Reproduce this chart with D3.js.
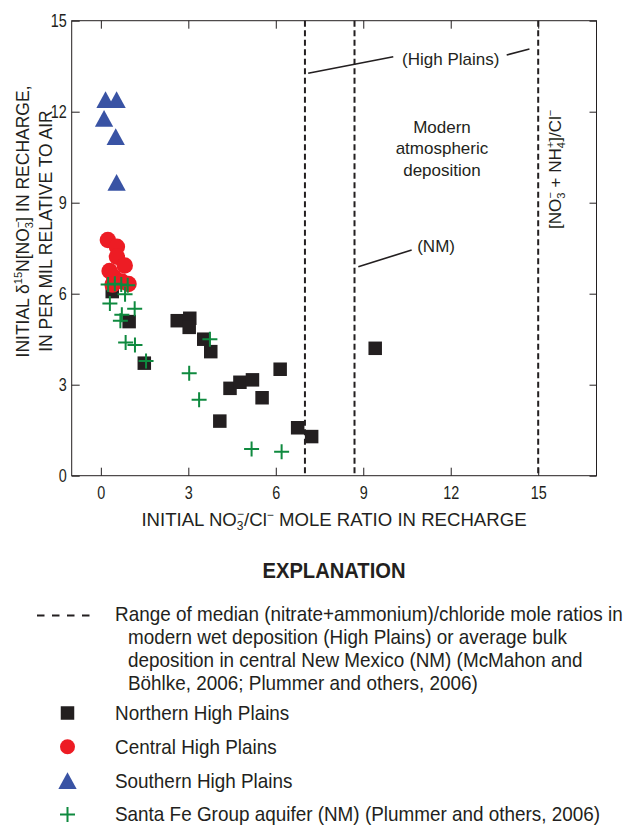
<!DOCTYPE html>
<html>
<head>
<meta charset="utf-8">
<script src="https://cdn.jsdelivr.net/npm/d3@7"></script>
<style>
  body { margin: 0; background: #fff; }
  svg { display: block; }
  .sans { font-family: "Liberation Sans", Arial, sans-serif; }
</style>
</head>
<body>
<svg id="chart" width="629" height="826"></svg>
<script>
// Initial NO3-/Cl- mole ratio (x) and initial delta15N of nitrate, per mil (y)
const northernHighPlains = [
  [0.39, 6.07], [0.97, 5.08], [1.49, 3.71], [2.62, 5.11], [3.05, 5.19],
  [3.03, 4.89], [3.53, 4.50], [3.77, 4.09], [4.08, 1.80], [4.43, 2.88],
  [4.77, 3.08], [5.20, 3.16], [5.53, 2.57], [6.15, 3.51], [6.75, 1.58],
  [7.23, 1.29], [9.41, 4.20]
];
const centralHighPlains = [
  [0.24, 7.77], [0.55, 7.55], [0.55, 7.22], [0.82, 6.93], [0.30, 6.75],
  [0.45, 6.55], [0.40, 6.30], [0.72, 6.40], [0.95, 6.32]
];
const southernHighPlains = [
  [0.16, 12.40], [0.54, 12.40], [0.11, 11.78], [0.51, 11.18], [0.54, 9.67]
];
const santaFeGroup = [
  [0.25, 6.30], [0.48, 6.33], [0.70, 6.30], [0.92, 6.28], [0.83, 5.98],
  [0.31, 5.68], [1.16, 5.50], [0.72, 5.31], [0.67, 5.11], [0.85, 4.39],
  [1.17, 4.31], [1.55, 3.78], [3.03, 3.38], [3.37, 2.50], [3.74, 4.50],
  [5.17, 0.88], [6.20, 0.79]
];

// Modern deposition ratios: High Plains wet-deposition range and NM bulk deposition
const depositionRatios = [7.0, 8.7, 15.0];

const xTicks = [0, 3, 6, 9, 12, 15];
const yTicks = [0, 3, 6, 9, 12, 15];

const legendNote = [
  "Range of median (nitrate+ammonium)/chloride mole ratios in",
  "modern wet deposition (High Plains) or average bulk",
  "deposition in central New Mexico (NM) (McMahon and",
  "Böhlke, 2006; Plummer and others, 2006)"
];
const legendSeries = [
  "Northern High Plains",
  "Central High Plains",
  "Southern High Plains",
  "Santa Fe Group aquifer (NM) (Plummer and others, 2006)"
];

const INK = "#231f20";
const COLORS = { north: "#231f20", central: "#ed1c24", south: "#3953a4", santaFe: "#0f8a3f" };
const NARROW = 0.9;   // horizontal squeeze giving a condensed face

const svg = d3.select("#chart");
const x = d3.scaleLinear().domain([-1, 17]).range([71.7, 596.5]);
const y = d3.scaleLinear().domain([0, 15]).range([475.7, 20.7]);

// condensed text: plain sans squeezed horizontally about its anchor point
function narrowText(parent, px, py, str, size, opts = {}) {
  return parent.append("text")
    .attr("class", "sans")
    .attr("transform", `translate(${px},${py}) scale(${opts.squeeze || NARROW},1)`)
    .attr("font-size", size)
    .attr("font-weight", opts.weight || null)
    .attr("text-anchor", opts.anchor || "start")
    .attr("fill", INK)
    .text(str);
}

// ---- axes (ticks point inward, labels on left and bottom only)
const axisStyle = g => {
  g.select(".domain").remove();
  g.selectAll(".tick line").attr("stroke", INK).attr("stroke-width", 1);
  g.selectAll(".tick text").attr("fill", INK).attr("class", "sans")
    .attr("font-size", 18).attr("transform", "scale(0.8,1)");
};
svg.append("g").attr("transform", `translate(0,${y(0)})`)
  .call(d3.axisBottom(x).tickValues(xTicks).tickSize(-8).tickPadding(11).tickFormat(d3.format("d")))
  .call(axisStyle);
svg.append("g").attr("transform", `translate(0,${y(15)})`)
  .call(d3.axisTop(x).tickValues(xTicks).tickSize(-8).tickFormat(""))
  .call(axisStyle);
svg.append("g").attr("transform", `translate(${x(-1)},0)`)
  .call(d3.axisLeft(y).tickValues(yTicks).tickSize(-8).tickPadding(6.2).tickFormat(d3.format("d")))
  .call(axisStyle);
svg.append("g").attr("transform", `translate(${x(17)},0)`)
  .call(d3.axisRight(y).tickValues(yTicks).tickSize(-7).tickFormat(""))
  .call(axisStyle);

svg.append("rect")
  .attr("x", x(-1)).attr("y", y(15))
  .attr("width", x(17) - x(-1)).attr("height", y(0) - y(15))
  .attr("fill", "none").attr("stroke", INK).attr("stroke-width", 1);

// ---- deposition ratio lines
svg.append("g").selectAll("line").data(depositionRatios).join("line")
  .attr("x1", d => x(d)).attr("x2", d => x(d))
  .attr("y1", y(15)).attr("y2", y(0))
  .attr("stroke", INK).attr("stroke-width", 2).attr("stroke-dasharray", "6 3.5");

// leader lines
const leaders = [
  [[7.11, 13.27], [10.03, 13.81]],
  [[13.92, 13.87], [14.70, 14.07]],
  [[8.83, 6.89], [10.66, 7.44]]
];
svg.append("g").selectAll("line").data(leaders).join("line")
  .attr("x1", d => x(d[0][0])).attr("y1", d => y(d[0][1]))
  .attr("x2", d => x(d[1][0])).attr("y2", d => y(d[1][1]))
  .attr("stroke", INK).attr("stroke-width", 1.6);

const ann = svg.append("g").attr("class", "sans").attr("fill", INK).attr("font-size", 17);
ann.append("text").attr("x", x(12.0)).attr("y", y(13.54)).attr("text-anchor", "middle").text("(High Plains)");
ann.append("text").attr("x", x(10.85)).attr("y", y(7.38)).text("(NM)");
["Modern", "atmospheric", "deposition"].forEach((t, i) => {
  ann.append("text").attr("x", x(11.7)).attr("y", y(11.31) + i * 21.5)
    .attr("text-anchor", "middle").text(t);
});

// rotated ratio label next to the 15 line
{
  const t = ann.append("text")
    .attr("transform", `translate(${x(15.77)},${y(10.1)}) rotate(-90)`)
    .attr("text-anchor", "middle");
  t.append("tspan").text("[NO");
  t.append("tspan").attr("font-size", 11).attr("dy", 4).text("3");
  t.append("tspan").attr("font-size", 11).attr("dx", -6).attr("dy", -11).text("−");
  t.append("tspan").attr("dy", 7).text(" + NH");
  t.append("tspan").attr("font-size", 11).attr("dy", 4).text("4");
  t.append("tspan").attr("font-size", 11).attr("dx", -6).attr("dy", -11).text("+");
  t.append("tspan").attr("dy", 7).text("]/Cl");
  t.append("tspan").attr("font-size", 11).attr("dy", -7).text("−");
}

// ---- axis titles
{
  const t = svg.append("text").attr("class", "sans").attr("fill", INK).attr("font-size", 18.6)
    .attr("x", 334).attr("y", 526).attr("text-anchor", "middle");
  t.append("tspan").text("INITIAL NO");
  t.append("tspan").attr("font-size", 12).attr("dy", 4).text("3");
  t.append("tspan").attr("font-size", 12).attr("dx", -6.5).attr("dy", -12).text("−");
  t.append("tspan").attr("dy", 8).text("/Cl");
  t.append("tspan").attr("font-size", 12).attr("dy", -7).text("−");
  t.append("tspan").attr("dy", 7).text(" MOLE RATIO IN RECHARGE");
}
{
  const t1 = svg.append("text").attr("class", "sans").attr("fill", INK).attr("font-size", 17.5)
    .attr("transform", "translate(29,221.5) rotate(-90)").attr("text-anchor", "middle");
  t1.append("tspan").text("INITIAL δ");
  t1.append("tspan").attr("font-size", 11).attr("dy", -7).text("15");
  t1.append("tspan").attr("dy", 7).text("N[NO");
  t1.append("tspan").attr("font-size", 11).attr("dy", 4).text("3");
  t1.append("tspan").attr("font-size", 11).attr("dx", -6).attr("dy", -11).text("−");
  t1.append("tspan").attr("dy", 7).text("] IN RECHARGE,");
  svg.append("text").attr("class", "sans").attr("fill", INK).attr("font-size", 17.5)
    .attr("transform", "translate(52,231) rotate(-90)").attr("text-anchor", "middle")
    .text("IN PER MIL RELATIVE TO AIR");
}

// ---- marker shapes
const squarePath = d3.symbol().type(d3.symbolSquare).size(13.5 * 13.5)();
const trianglePath = "M0,-8.35L9.15,8.35L-9.15,8.35Z";
const crossPath = "M-7.5,0H7.5M0,-7.5V7.5";

const pts = svg.append("g");
pts.append("g").selectAll("path").data(northernHighPlains).join("path")
  .attr("d", squarePath).attr("fill", COLORS.north)
  .attr("transform", d => `translate(${x(d[0])},${y(d[1])})`);
pts.append("g").selectAll("circle").data(centralHighPlains).join("circle")
  .attr("cx", d => x(d[0])).attr("cy", d => y(d[1])).attr("r", 8.2)
  .attr("fill", COLORS.central);
pts.append("g").selectAll("path").data(southernHighPlains).join("path")
  .attr("d", trianglePath).attr("fill", COLORS.south)
  .attr("transform", d => `translate(${x(d[0])},${y(d[1])})`);
pts.append("g").selectAll("path").data(santaFeGroup).join("path")
  .attr("d", crossPath).attr("fill", "none").attr("stroke", COLORS.santaFe).attr("stroke-width", 2)
  .attr("transform", d => `translate(${x(d[0])},${y(d[1])})`);

// ---- explanation
narrowText(svg, 334, 578, "EXPLANATION", 22.4, { weight: "bold", anchor: "middle" });

const leg = svg.append("g");
leg.append("line").attr("x1", 37).attr("x2", 94).attr("y1", 615.5).attr("y2", 615.5)
  .attr("stroke", INK).attr("stroke-width", 2.2).attr("stroke-dasharray", "7.5 7.5");
legendNote.forEach((t, i) => {
  narrowText(leg, i === 0 ? 115 : 128, 621 + i * 23, t, 21);
});
const markerDraw = [
  g => g.append("path").attr("d", squarePath).attr("fill", COLORS.north),
  g => g.append("circle").attr("r", 7.5).attr("fill", COLORS.central),
  g => g.append("path").attr("d", trianglePath).attr("fill", COLORS.south),
  g => g.append("path").attr("d", crossPath).attr("stroke", COLORS.santaFe).attr("stroke-width", 2).attr("fill", "none")
];
legendSeries.forEach((t, i) => {
  const cy = 713 + i * 33.8;
  markerDraw[i](leg.append("g").attr("transform", `translate(67.5,${cy})`));
  narrowText(leg, 115, cy + 7, t, 21);
});
</script>
</body>
</html>
